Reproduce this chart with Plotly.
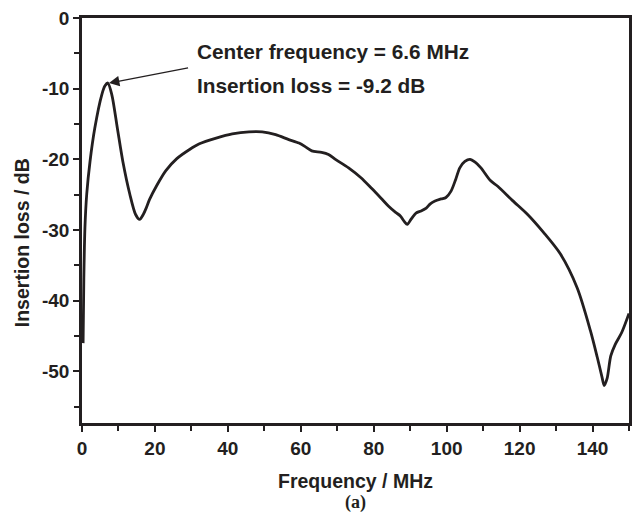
import plotly.graph_objects as go

freq_mhz = [0.3, 0.5, 0.8, 1.3, 2.2, 3.5, 5.4, 6.3, 7.1, 8.2, 9.7, 11.2, 13.1, 14.7, 15.8,
            16.8, 17.6, 18.5, 20.5, 23.0, 26.0, 29.5, 32.2, 36.8, 41.2, 45.8, 49.4, 53.1,
            56.7, 59.5, 61.5, 63.0, 65.7, 67.6, 69.5, 73.1, 76.5, 79.4, 82.0, 84.0, 86.0,
            87.3, 88.4, 89.2, 90.2, 91.6, 93.0, 94.4, 95.5, 96.8, 98.5, 99.8, 101.2, 102.5,
            103.6, 105.0, 106.4, 107.8, 109.4, 112.0, 114.0, 118.0, 122.2, 126.5, 131.2,
            135.8, 139.4, 141.3, 142.6, 143.2, 144.0, 145.0, 146.2, 148.0, 150.0]
loss_db = [-46.0, -37.0, -29.7, -24.9, -20.3, -15.6, -10.9, -9.6, -9.2, -10.9, -15.6, -20.3,
           -24.9, -27.8, -28.5, -27.8, -26.9, -25.7, -23.7, -21.6, -19.9, -18.6, -17.8, -17.0,
           -16.4, -16.1, -16.1, -16.5, -17.2, -17.7, -18.3, -18.8, -19.0, -19.3, -20.0, -21.2,
           -22.6, -24.1, -25.5, -26.6, -27.5, -28.0, -28.8, -29.2, -28.5, -27.6, -27.3, -26.9,
           -26.3, -25.9, -25.6, -25.4, -24.5, -22.8, -21.2, -20.3, -20.0, -20.4, -21.2, -23.0,
           -23.8, -25.8, -27.8, -30.3, -33.4, -38.2, -44.2, -48.0, -50.8, -52.0, -51.0, -47.8,
           -46.2, -44.5, -41.8]

x_ticks = [0, 20, 40, 60, 80, 100, 120, 140]
x_ticklabels = ["0", "20", "40", "60", "80", "100", "120", "140"]
x_minor = [10, 30, 50, 70, 90, 110, 130, 150]
y_ticks = [0, -10, -20, -30, -40, -50]
y_ticklabels = ["0", "-10", "-20", "-30", "-40", "-50"]
y_minor = [-5, -15, -25, -35, -45, -55]

peak_freq = 7.1
peak_loss = -9.2
label_lines = ["Center frequency = 6.6 MHz", "Insertion loss = -9.2 dB"]
x_title = "Frequency / MHz"
y_title = "Insertion loss / dB"

FONT = "Liberation Sans, Arial, sans-serif"
INK = "#231f20"

fig = go.Figure()
fig.add_trace(go.Scatter(
    x=freq_mhz, y=loss_db, mode="lines",
    line=dict(color=INK, width=2.8, shape="spline", smoothing=0.8),
    showlegend=False, hoverinfo="skip",
))

axis_common = dict(
    showline=True, linecolor=INK, linewidth=2.6, mirror=True,
    ticks="outside", ticklen=6, tickwidth=2.2, tickcolor=INK,
    showgrid=False, zeroline=False,
    tickfont=dict(family=FONT, size=19, color=INK, weight=700),
)

fig.update_xaxes(
    **axis_common, range=[0, 150], tickmode="array", tickvals=x_ticks,
    ticktext=["<b>" + t + "</b>" for t in x_ticklabels],
    minor=dict(tickmode="array", tickvals=x_minor, ticks="outside", ticklen=5,
               tickwidth=2.2, tickcolor=INK),
    title=dict(text="<b>" + x_title + "</b>", standoff=17,
               font=dict(family=FONT, size=19.5, color=INK)),
)
fig.update_yaxes(
    **axis_common, range=[-57.3, 0], tickmode="array", tickvals=y_ticks,
    ticktext=["<b>" + t + "</b>" for t in y_ticklabels],
    minor=dict(tickmode="array", tickvals=y_minor, ticks="outside", ticklen=5,
               tickwidth=2.2, tickcolor=INK),
)

# y-axis title, placed lower than centre as in the reference
fig.add_annotation(
    x=-(82 - 22) / 550, y=1 - (242 - 16) / 407, xref="paper", yref="paper",
    xanchor="center", yanchor="middle", textangle=-90,
    text="<b>" + y_title + "</b>", showarrow=False,
    font=dict(family=FONT, size=19.5, color=INK),
)

# arrow pointing to the peak
fig.add_annotation(
    x=peak_freq + 0.3, y=peak_loss, xref="x", yref="y",
    ax=29.5, ay=-7.0, axref="x", ayref="y",
    text="", showarrow=True, arrowhead=2, arrowsize=1.6, arrowwidth=1.3,
    arrowcolor=INK,
)
fig.add_annotation(
    x=31.0, y=-4.8, xref="x", yref="y", xanchor="left", yanchor="middle",
    text="<b>" + label_lines[0] + "</b>", showarrow=False,
    font=dict(family=FONT, size=20.8, color=INK),
)
fig.add_annotation(
    x=31.0, y=-9.6, xref="x", yref="y", xanchor="left", yanchor="middle",
    text="<b>" + label_lines[1] + "</b>", showarrow=False,
    font=dict(family=FONT, size=20.8, color=INK),
)
fig.add_annotation(
    x=0.5, y=-(503 - 423) / 407, xref="paper", yref="paper", xanchor="center", yanchor="middle",
    text="<b>(a)</b>", showarrow=False,
    font=dict(family="Liberation Serif, Times New Roman, serif", size=18, color=INK),
)

fig.update_layout(
    width=640, height=520,
    margin=dict(l=82, r=8, t=16, b=97),
    paper_bgcolor="white", plot_bgcolor="white",
)

fig.write_html("out.html")
